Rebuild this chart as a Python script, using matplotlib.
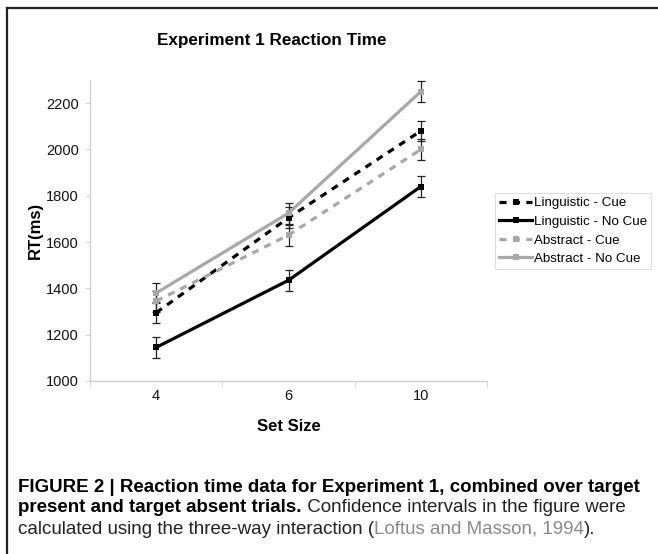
import matplotlib
matplotlib.use("Agg")
import matplotlib.pyplot as plt
import numpy as np
from matplotlib.lines import Line2D

plt.rcParams['font.family'] = ['Liberation Sans', 'DejaVu Sans']

# values
set_sizes = ["4", "6", "10"]
series_names = ["Linguistic - Cue", "Linguistic - No Cue", "Abstract - Cue", "Abstract - No Cue"]
ling_cue = [1295, 1705, 2080]
ling_nocue = [1145, 1435, 1840]
abs_cue = [1345, 1630, 2000]
abs_nocue = [1380, 1725, 2250]
ci = [45, 45, 45]

styles = [
    dict(color="black", ls=(0, (2.2, 2.0))),
    dict(color="black", ls="-"),
    dict(color="#a8a8a8", ls=(0, (2.2, 2.0))),
    dict(color="#a8a8a8", ls="-"),
]

fig = plt.figure(figsize=(6.58, 5.54), dpi=100)
ax = fig.add_axes([90 / 658, 1 - 381 / 554, 397 / 658, 301 / 554])

x = np.arange(len(set_sizes))
handles = []
for name, vals, st in zip(series_names, [ling_cue, ling_nocue, abs_cue, abs_nocue], styles):
    ax.errorbar(x, vals, yerr=ci, fmt="none", ecolor="#222222", elinewidth=0.9,
                capsize=3, capthick=0.9, zorder=2)
    h, = ax.plot(x, vals, color=st["color"], ls=st["ls"], lw=2.3, marker="s",
                 markersize=5, markeredgewidth=0, zorder=3, label=name)
    handles.append(h)

ax.set_xlim(-0.5, 2.5)
ax.set_ylim(1000, 2300)
ax.set_yticks(np.arange(1000, 2201, 200))
ax.set_xticks(x)
ax.set_xticklabels(set_sizes)
ax.set_xticks([-0.5, 0.5, 1.5, 2.5], minor=True)

for side in ["top", "right"]:
    ax.spines[side].set_visible(False)
for side in ["left", "bottom"]:
    ax.spines[side].set_color("#d0d0d0")
    ax.spines[side].set_linewidth(1.0)

ax.tick_params(axis="y", length=3, color="#d0d0d0", labelsize=10.5, pad=5, labelcolor="#111111")
ax.tick_params(axis="x", which="major", length=0, labelsize=10.5, pad=6, labelcolor="#111111")
ax.tick_params(axis="x", which="minor", length=4, color="#d0d0d0")

ax.set_ylabel("RT(ms)", fontsize=12, fontweight="bold", labelpad=2)
ax.set_xlabel("Set Size", fontsize=12, fontweight="bold", labelpad=11)

fig.text(272 / 658, 1 - 40 / 554, "Experiment 1 Reaction Time", ha="center", va="center",
         fontsize=12.3, fontweight="bold")

leg = fig.legend(handles=handles, loc="upper left", bbox_to_anchor=(495 / 658, 1 - 193 / 554),
                 fontsize=9.6, frameon=True, fancybox=False, handlelength=2.5,
                 handletextpad=0.15, borderpad=0.3, labelspacing=0.47, borderaxespad=0)
leg.get_frame().set_edgecolor("#d8d8d8")
leg.get_frame().set_linewidth(0.8)

# outer frame (top and left only)
fig.add_artist(Line2D([7 / 658, 1], [1 - 8 / 554, 1 - 8 / 554], color="#222222", lw=1.6))
fig.add_artist(Line2D([7 / 658, 7 / 658], [0, 1 - 8 / 554], color="#222222", lw=1.6))

# caption, built piece by piece
renderer = fig.canvas.get_renderer()
cap_size = 13.5


def put_pieces(y_px, pieces):
    xpos = 18 / 658
    for txt, weight, col in pieces:
        t = fig.text(xpos, 1 - y_px / 554, txt, ha="left", va="center", fontsize=cap_size,
                     fontweight=weight, color=col)
        bb = t.get_window_extent(renderer=renderer)
        xpos = bb.x1 / fig.bbox.width


put_pieces(487, [("FIGURE 2 | Reaction time data for Experiment 1, combined over target", "bold", "black")])
put_pieces(508, [("present and target absent trials.", "bold", "black"),
                 (" Confidence intervals in the figure were", "normal", "#222222")])
put_pieces(529, [("calculated using the three-way interaction (", "normal", "#222222"),
                 ("Loftus and Masson, 1994", "normal", "#8a8a8a"),
                 (").", "normal", "#222222")])

fig.savefig("out.png", dpi=100)
